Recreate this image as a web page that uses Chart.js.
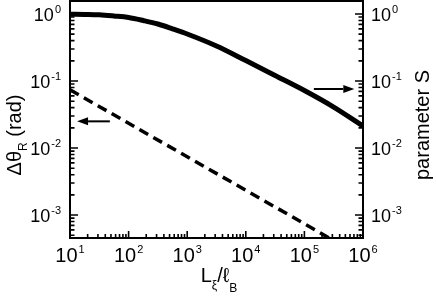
<!DOCTYPE html>
<html><head><meta charset="utf-8">
<script src="https://cdn.jsdelivr.net/npm/chart.js@4/dist/chart.umd.min.js"></script>
<style>html,body{margin:0;padding:0;background:#fff;}#wrap{width:436px;height:299px;}</style>
</head><body><div id="wrap"><canvas id="c" width="436" height="299"></canvas></div>
<script>
// ---- data ----
const sRatio     = [10, 17.8, 31.6, 56.2, 100, 178, 316, 562, 1000, 3162, 10000, 31623, 100000, 316228, 1000000];
const parameterS = [0.99, 0.985, 0.973, 0.934, 0.887, 0.80, 0.709, 0.601, 0.503, 0.333, 0.202, 0.121, 0.0722, 0.0409, 0.0213];
const dRatio     = [10, 100, 1000, 10000, 100000, 1000000];
const deltaTheta = [0.074, 0.0234, 0.0074, 0.00234, 0.00074, 0.000234];
const xTickValues = [1e1, 1e2, 1e3, 1e4, 1e5, 1e6];
const xTickExps   = ["1", "2", "3", "4", "5", "6"];
const yTickValues = [1e0, 1e-1, 1e-2, 1e-3];
const yTickExps   = ["0", "-1", "-2", "-3"];
// arrow annotations: [xStart, xTip, y]
const leftArrow  = [47.9, 13.2, 0.025];
const rightArrow = [145000, 710000, 0.076];

const yMin = Math.pow(10, -3.343), yMax = Math.pow(10, 0.194);
const FONT = '"Liberation Sans", Arial, sans-serif';

const drawPlugin = {
  id: 'decor',
  afterDraw(chart) {
    const ctx = chart.ctx, a = chart.chartArea;
    const sx = chart.scales.x, sy = chart.scales.y, sy2 = chart.scales.y2;
    ctx.save();
    ctx.strokeStyle = '#000'; ctx.fillStyle = '#000';
    // frame
    ctx.lineWidth = 2;
    ctx.strokeRect(a.left, a.top, a.right - a.left, a.bottom - a.top);
    // ticks (inward)
    ctx.lineWidth = 1.6;
    ctx.beginPath();
    for (let e = 0; e <= 6; e++) {
      for (let m = 1; m <= 9; m++) {
        const v = m * Math.pow(10, e);
        if (v < 10 || v > 1e6) continue;
        const px = sx.getPixelForValue(v);
        const L = m === 1 ? 7 : 4;
        ctx.moveTo(px, a.bottom); ctx.lineTo(px, a.bottom - L);
      }
    }
    for (let e = -4; e <= 0; e++) {
      for (let m = 1; m <= 9; m++) {
        const v = m * Math.pow(10, e);
        if (v < yMin || v > yMax) continue;
        const py = sy.getPixelForValue(v);
        const L = m === 1 ? 8 : 4.5;
        ctx.moveTo(a.left, py); ctx.lineTo(a.left + L, py);
        const py2 = sy2.getPixelForValue(v);
        ctx.moveTo(a.right, py2); ctx.lineTo(a.right - L, py2);
      }
    }
    ctx.stroke();
    // tick labels with superscripts
    const bigX = '20px ' + FONT, bigY = '18px ' + FONT, small = '11px ' + FONT, big = '20px ' + FONT, sub = '12px ' + FONT;
    ctx.textBaseline = 'alphabetic';
    function measure(f, t) { ctx.font = f; return ctx.measureText(t).width; }
    xTickValues.forEach((v, i) => {
      const px = sx.getPixelForValue(v);
      const w1 = measure(bigX, '10'), w2 = measure(small, xTickExps[i]);
      const x0 = px - (w1 + w2 + 1) / 2;
      ctx.font = bigX; ctx.textAlign = 'left'; ctx.fillText('10', x0, 262);
      ctx.font = small; ctx.fillText(xTickExps[i], x0 + w1 + 1, 253);
    });
    yTickValues.forEach((v, i) => {
      const py = sy.getPixelForValue(v);
      const w1 = measure(bigY, '10'), w2 = measure(small, yTickExps[i]);
      const xr = 61;
      ctx.textAlign = 'left';
      ctx.font = bigY; ctx.fillText('10', xr - w2 - 1 - w1, py + 7);
      ctx.font = small; ctx.fillText(yTickExps[i], xr - w2, py - 1);
      const py2 = sy2.getPixelForValue(v);
      const xl = 371;
      ctx.font = bigY; ctx.fillText('10', xl, py2 + 7);
      ctx.font = small; ctx.fillText(yTickExps[i], xl + w1 + 1, py2 - 1);
    });
    // left axis title: Δθ_R (rad)
    ctx.save();
    ctx.translate(21, 135); ctx.rotate(-Math.PI / 2);
    const p1 = 'Δθ', p2 = 'R', p3 = ' (rad)';
    const w1 = measure(big, p1), w2 = measure(sub, p2), w3 = measure(big, p3);
    let x = -(w1 + w2 + w3) / 2;
    ctx.textAlign = 'left';
    ctx.font = big; ctx.fillText(p1, x, 0); x += w1;
    ctx.font = sub; ctx.fillText(p2, x, 6); x += w2;
    ctx.font = big; ctx.fillText(p3, x, 0);
    ctx.restore();
    // right axis title
    ctx.save();
    ctx.translate(429, 125); ctx.rotate(-Math.PI / 2);
    ctx.font = big; ctx.textAlign = 'center';
    ctx.fillText('parameter S', 0, 0);
    ctx.restore();
    // x axis title: L_ξ/ℓ_B
    {
      const parts = [['L', big, 0], ['ξ', sub, 7], ['/', big, 0], ['ℓ', big, 0], ['B', sub, 10]];
      let tw = 0; parts.forEach(p => tw += measure(p[1], p[0]));
      let xx = 219 - tw / 2;
      ctx.textAlign = 'left';
      parts.forEach(p => { ctx.font = p[1]; ctx.fillText(p[0], xx, 282 + p[2]); xx += ctx.measureText(p[0]).width; });
    }
    // arrows
    function arrow(xs, xt, yv, scaleY) {
      const x1 = sx.getPixelForValue(xs), x2 = sx.getPixelForValue(xt), y = scaleY.getPixelForValue(yv);
      const dir = Math.sign(x2 - x1), hl = 11, hw = 4;
      ctx.lineWidth = 2;
      ctx.beginPath(); ctx.moveTo(x1, y); ctx.lineTo(x2 - dir * hl, y); ctx.stroke();
      ctx.beginPath(); ctx.moveTo(x2, y); ctx.lineTo(x2 - dir * hl, y - hw); ctx.lineTo(x2 - dir * hl, y + hw); ctx.closePath(); ctx.fill();
    }
    arrow(leftArrow[0], leftArrow[1], leftArrow[2], sy);
    arrow(rightArrow[0], rightArrow[1], rightArrow[2], sy2);
    ctx.restore();
  }
};

const hiddenAxis = (pos, fit) => ({
  position: pos, display: true,
  ticks: { display: false }, grid: { display: false }, border: { display: false },
  title: { display: false }, afterFit: fit
});

new Chart(document.getElementById('c'), {
  type: 'line',
  data: {
    datasets: [
      { label: 'parameter S', yAxisID: 'y2',
        data: sRatio.map((v, i) => ({ x: v, y: parameterS[i] })),
        borderColor: '#000', borderWidth: 5, pointRadius: 0, cubicInterpolationMode: 'monotone', fill: false },
      { label: 'Δθ_R', yAxisID: 'y',
        data: dRatio.map((v, i) => ({ x: v, y: deltaTheta[i] })),
        borderColor: '#000', borderWidth: 3.5, borderDash: [10, 6], pointRadius: 0, tension: 0, fill: false }
    ]
  },
  options: {
    responsive: false, animation: false, devicePixelRatio: 1,
    layout: { padding: { top: 1, left: 0, right: 0, bottom: 0 } },
    plugins: { legend: { display: false }, tooltip: { enabled: false } },
    scales: {
      x: Object.assign(hiddenAxis('bottom', s => { s.height = 61; }), { type: 'logarithmic', min: 10, max: 1e6 }),
      y: Object.assign(hiddenAxis('left', s => { s.width = 70; }), { type: 'logarithmic', min: yMin, max: yMax }),
      y2: Object.assign(hiddenAxis('right', s => { s.width = 73; }), { type: 'logarithmic', min: yMin, max: yMax })
    }
  },
  plugins: [drawPlugin]
});
</script>
</body></html>
